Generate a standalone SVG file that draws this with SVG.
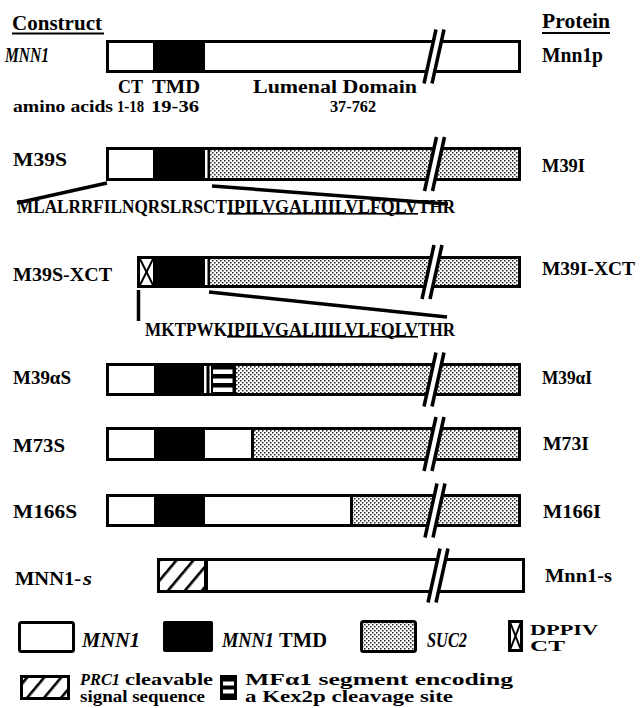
<svg xmlns="http://www.w3.org/2000/svg" width="642" height="708" viewBox="0 0 642 708">
<style>
.t{font-family:"Liberation Serif","Times New Roman",serif;fill:#000;font-weight:bold}
.i{font-style:italic}
.ol{fill:none;stroke:#000;stroke-width:3}
.blk{fill:#000}
.wht{fill:#fff}
.dot{fill:url(#dots)}
.ln{stroke:#000;stroke-width:3.5;stroke-linecap:butt;fill:none}
.x{stroke:#000;stroke-width:2;fill:none}
</style>
<defs>
<pattern id="dots" width="4" height="4" patternUnits="userSpaceOnUse">
<rect width="4" height="4" fill="#fff"/>
<rect x="0" y="0" width="1.5" height="1.5" fill="#222"/>
<rect x="2" y="2" width="1.5" height="1.5" fill="#222"/>
</pattern>
<pattern id="hatch" width="13" height="13" patternUnits="userSpaceOnUse" patternTransform="rotate(40)">
<rect width="13" height="13" fill="#fff"/>
<rect x="0" y="0" width="2.6" height="13" fill="#000"/>
</pattern>
<g id="brk">
<polygon points="0,-18 8,-18 0,18 -8,18" fill="#fff"/>
<line x1="2" y1="-27" x2="-10" y2="27" stroke="#000" stroke-width="3.5"/>
<line x1="10" y1="-27" x2="-2" y2="27" stroke="#000" stroke-width="3.5"/>
</g>
</defs>
<rect width="642" height="708" fill="#fff"/>

<g id="headers">
<text class="t" x="12" y="30" font-size="20" textLength="90" lengthAdjust="spacingAndGlyphs">Construct</text>
<rect x="12" y="32.5" width="92" height="2" fill="#000"/>
<text class="t" x="542" y="28" font-size="20" textLength="68" lengthAdjust="spacingAndGlyphs">Protein</text>
<rect x="542" y="32" width="68" height="2" fill="#000"/>
</g>

<g id="mnn1">
<text class="t i" x="5" y="62" font-size="20" textLength="44" lengthAdjust="spacingAndGlyphs">MNN1</text>
<rect x="107.5" y="41.5" width="412" height="30" class="wht"/>
<rect x="153" y="41" width="52" height="31" class="blk"/>
<rect x="107.5" y="41.5" width="412" height="30" class="ol"/>
<use href="#brk" x="434" y="56.5"/>
<text class="t" x="542" y="62" font-size="20" textLength="61" lengthAdjust="spacingAndGlyphs">Mnn1p</text>
<text class="t" x="118" y="93" font-size="18" textLength="25" lengthAdjust="spacingAndGlyphs">CT</text>
<text class="t" x="152" y="93" font-size="18" textLength="48" lengthAdjust="spacingAndGlyphs">TMD</text>
<text class="t" x="253" y="93" font-size="18" textLength="164" lengthAdjust="spacingAndGlyphs">Lumenal Domain</text>
<text class="t" x="13" y="112" font-size="16" textLength="100" lengthAdjust="spacingAndGlyphs">amino acids</text>
<text class="t" x="117" y="112" font-size="16" textLength="27" lengthAdjust="spacingAndGlyphs">1-18</text>
<text class="t" x="151" y="112" font-size="16" textLength="48" lengthAdjust="spacingAndGlyphs">19-36</text>
<text class="t" x="330" y="112" font-size="16" textLength="46" lengthAdjust="spacingAndGlyphs">37-762</text>
</g>

<g id="m39s">
<text class="t" x="13" y="166" font-size="19" textLength="54" lengthAdjust="spacingAndGlyphs">M39S</text>
<rect x="107.5" y="148.5" width="412" height="31" class="wht"/>
<rect x="153" y="148" width="52" height="32" class="blk"/>
<rect x="207.5" y="148" width="2.8" height="32" class="blk"/>
<rect x="210.3" y="148.5" width="309.2" height="31" class="dot"/>
<rect x="107.5" y="148.5" width="412" height="31" class="ol"/>
<use href="#brk" x="434.5" y="164"/>
<text class="t" x="542" y="172" font-size="19" textLength="43" lengthAdjust="spacingAndGlyphs">M39I</text>
</g>

<g id="m39s-xct">
<text class="t" x="13" y="281" font-size="19" textLength="99" lengthAdjust="spacingAndGlyphs">M39S-XCT</text>
<rect x="138.5" y="257.5" width="381" height="29" class="wht"/>
<line class="x" x1="140" y1="259" x2="153" y2="285"/>
<line class="x" x1="153" y1="259" x2="140" y2="285"/>
<rect x="153" y="257" width="52" height="30" class="blk"/>
<rect x="207.5" y="257" width="2.8" height="30" class="blk"/>
<rect x="210.3" y="257.5" width="309.2" height="29" class="dot"/>
<rect x="138.5" y="257.5" width="381" height="29" class="ol"/>
<use href="#brk" x="432" y="272"/>
<text class="t" x="542" y="275" font-size="19" textLength="93" lengthAdjust="spacingAndGlyphs">M39I-XCT</text>
</g>

<g id="m39as">
<text class="t" x="13" y="384" font-size="19" textLength="58" lengthAdjust="spacingAndGlyphs">M39αS</text>
<rect x="107.5" y="364.5" width="412" height="30" class="wht"/>
<rect x="154" y="364" width="50" height="31" class="blk"/>
<rect x="206.5" y="364" width="3" height="31" class="blk"/>
<rect x="211" y="364" width="25" height="31" class="blk"/>
<rect x="213" y="369.5" width="19.5" height="4.5" class="wht"/>
<rect x="213" y="378.5" width="19.5" height="4.5" class="wht"/>
<rect x="213" y="387.5" width="19.5" height="4.5" class="wht"/>
<rect x="236" y="364.5" width="283.5" height="30" class="dot"/>
<rect x="107.5" y="364.5" width="412" height="30" class="ol"/>
<use href="#brk" x="434" y="379.5"/>
<text class="t" x="542" y="384" font-size="19" textLength="50" lengthAdjust="spacingAndGlyphs">M39αI</text>
</g>

<g id="m73s">
<text class="t" x="13" y="452" font-size="19" textLength="52" lengthAdjust="spacingAndGlyphs">M73S</text>
<rect x="107.5" y="428.5" width="412" height="31" class="wht"/>
<rect x="154" y="428" width="51" height="32" class="blk"/>
<rect x="251" y="428" width="3" height="32" class="blk"/>
<rect x="254" y="428.5" width="265.5" height="31" class="dot"/>
<rect x="107.5" y="428.5" width="412" height="31" class="ol"/>
<use href="#brk" x="434" y="444"/>
<text class="t" x="543" y="450" font-size="19" textLength="46" lengthAdjust="spacingAndGlyphs">M73I</text>
</g>

<g id="m166s">
<text class="t" x="13" y="518" font-size="19" textLength="64" lengthAdjust="spacingAndGlyphs">M166S</text>
<rect x="107.5" y="495.5" width="412" height="30" class="wht"/>
<rect x="154" y="495" width="51" height="31" class="blk"/>
<rect x="350" y="495" width="3" height="31" class="blk"/>
<rect x="353" y="495.5" width="166.5" height="30" class="dot"/>
<rect x="107.5" y="495.5" width="412" height="30" class="ol"/>
<use href="#brk" x="435" y="510.5"/>
<text class="t" x="543" y="518" font-size="19" textLength="58" lengthAdjust="spacingAndGlyphs">M166I</text>
</g>

<g id="mnn1-s">
<text class="t" x="15" y="585" font-size="19" textLength="66" lengthAdjust="spacingAndGlyphs">MNN1-</text>
<text class="t i" x="83" y="585" font-size="19" textLength="9" lengthAdjust="spacingAndGlyphs">s</text>
<rect x="158.5" y="559.5" width="365" height="32" class="wht"/>
<rect x="158.5" y="559.5" width="46" height="32" fill="url(#hatch)"/>
<rect x="204" y="559" width="4" height="33" class="blk"/>
<rect x="158.5" y="559.5" width="365" height="32" class="ol"/>
<use href="#brk" x="438" y="575.5"/>
<text class="t" x="545" y="582" font-size="19" textLength="67" lengthAdjust="spacingAndGlyphs">Mnn1-s</text>
</g>

<g id="seq1">
<text class="t" x="17" y="213" font-size="18" textLength="210" lengthAdjust="spacingAndGlyphs">MLALRRFILNQRSLRSCT</text>
<text class="t" x="227" y="213" font-size="18" textLength="191" lengthAdjust="spacingAndGlyphs">IPILVGALIIILVLFQLV</text>
<text class="t" x="418" y="213" font-size="18" textLength="37" lengthAdjust="spacingAndGlyphs">THR</text>
<rect x="227" y="213" width="191" height="1.6" fill="#000"/>
</g>
<g id="seq2">
<text class="t" x="145" y="336" font-size="18" textLength="82" lengthAdjust="spacingAndGlyphs">MKTPWK</text>
<text class="t" x="227" y="336" font-size="18" textLength="191" lengthAdjust="spacingAndGlyphs">IPILVGALIIILVLFQLV</text>
<text class="t" x="418" y="336" font-size="18" textLength="37" lengthAdjust="spacingAndGlyphs">THR</text>
<rect x="227" y="336" width="191" height="1.6" fill="#000"/>
</g>

<g id="connectors">
<line class="ln" x1="107" y1="183" x2="17" y2="203"/>
<line class="ln" x1="212" y1="186" x2="448" y2="204"/>
<line class="ln" x1="138.5" y1="290" x2="138.5" y2="321"/>
<line class="ln" x1="209" y1="292" x2="447" y2="317"/>
</g>

<g id="legend">
<rect x="19.5" y="622.5" width="54" height="29" rx="2" class="wht"/>
<rect x="19.5" y="622.5" width="54" height="29" rx="2" class="ol"/>
<text class="t i" x="82" y="647" font-size="20" textLength="58" lengthAdjust="spacingAndGlyphs">MNN1</text>
<rect x="163" y="621" width="50" height="31" rx="2" class="blk"/>
<text class="t i" x="222" y="647" font-size="20" textLength="52" lengthAdjust="spacingAndGlyphs">MNN1</text>
<text class="t" x="279" y="647" font-size="20" textLength="48" lengthAdjust="spacingAndGlyphs">TMD</text>
<rect x="361.5" y="621.5" width="54" height="30" rx="2" class="dot"/>
<rect x="361.5" y="621.5" width="54" height="30" rx="2" class="ol"/>
<text class="t i" x="427" y="647" font-size="20" textLength="40" lengthAdjust="spacingAndGlyphs">SUC2</text>
<rect x="509.5" y="621.5" width="12" height="29" class="wht"/>
<line class="x" x1="510" y1="622" x2="521" y2="650"/>
<line class="x" x1="521" y1="622" x2="510" y2="650"/>
<rect x="509.5" y="621.5" width="12" height="29" class="ol"/>
<text class="t" x="530" y="635" font-size="15" textLength="68" lengthAdjust="spacingAndGlyphs">DPPIV</text>
<text class="t" x="530" y="651" font-size="15" textLength="35" lengthAdjust="spacingAndGlyphs">CT</text>
<rect x="21.5" y="676.5" width="47" height="22" fill="url(#hatch)"/>
<rect x="21.5" y="676.5" width="47" height="22" class="ol"/>
<text class="t i" x="80" y="685" font-size="16" textLength="40" lengthAdjust="spacingAndGlyphs">PRC1</text>
<text class="t" x="125" y="685" font-size="16" textLength="88" lengthAdjust="spacingAndGlyphs">cleavable</text>
<text class="t" x="80" y="702" font-size="16" textLength="125" lengthAdjust="spacingAndGlyphs">signal sequence</text>
<rect x="220" y="675" width="17" height="25" class="blk"/>
<rect x="223" y="681.5" width="11" height="4" class="wht"/>
<rect x="223" y="689.5" width="11" height="4" class="wht"/>
<text class="t" x="245" y="685" font-size="16" textLength="268" lengthAdjust="spacingAndGlyphs">MFα1 segment encoding</text>
<text class="t" x="245" y="702" font-size="16" textLength="208" lengthAdjust="spacingAndGlyphs">a Kex2p cleavage site</text>
</g>
</svg>
